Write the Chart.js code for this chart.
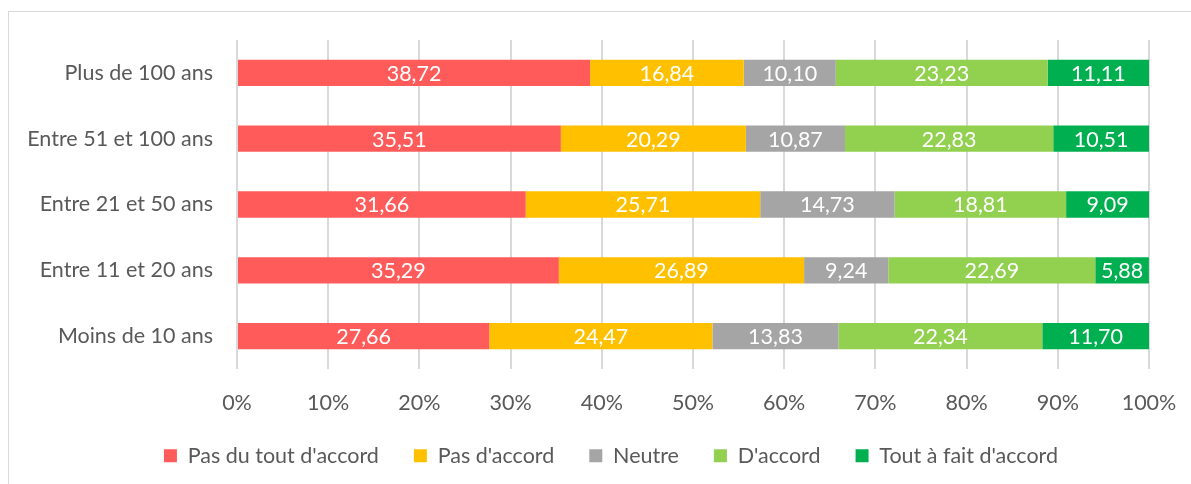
<!DOCTYPE html>
<html lang="fr">
<head>
<meta charset="utf-8">
<script src="https://cdn.jsdelivr.net/npm/chart.js@4/dist/chart.umd.min.js"></script>
<style>
  html, body { margin: 0; padding: 0; background: #fff; overflow: hidden; }
  #cadre {
    position: absolute; left: 8px; top: 11px; width: 1200px; height: 500px;
    border: 1px solid #d9d9d9; box-sizing: border-box;
  }
  #zone { position: absolute; left: 0; top: 0; width: 1191px; height: 484px; }
</style>
</head>
<body>
<div id="cadre"></div>
<div id="zone"><canvas id="graphique" width="1191" height="484"></canvas></div>
<script>
// Tranches d'âge (de haut en bas)
const categories = ['Plus de 100 ans', 'Entre 51 et 100 ans', 'Entre 21 et 50 ans', 'Entre 11 et 20 ans', 'Moins de 10 ans'];

// Pourcentages par niveau d'accord
const pasDuTout = [38.72, 35.51, 31.66, 35.29, 27.66];
const pasDAccord = [16.84, 20.29, 25.71, 26.89, 24.47];
const neutre = [10.10, 10.87, 14.73, 9.24, 13.83];
const dAccord = [23.23, 22.83, 18.81, 22.69, 22.34];
const toutAFait = [11.11, 10.51, 9.09, 5.88, 11.70];

const seriesNoms = ["Pas du tout d'accord", "Pas d'accord", 'Neutre', "D'accord", "Tout à fait d'accord"];
const seriesCouleurs = ['#FF5B5B', '#FFC000', '#A5A5A5', '#92D050', '#00B050'];

const police = "Lato, 'Open Sans', sans-serif";
const taille = 21.5;
const gris = '#595959';

// Étiquettes de valeur au centre de chaque segment
const etiquettesValeurs = {
  id: 'etiquettesValeurs',
  afterDatasetsDraw(chart) {
    const ctx = chart.ctx;
    ctx.save();
    ctx.fillStyle = '#fff';
    ctx.font = taille + 'px ' + police;
    ctx.textAlign = 'center';
    ctx.textBaseline = 'middle';
    chart.data.datasets.forEach((ds, i) => {
      chart.getDatasetMeta(i).data.forEach((bar, j) => {
        const x = (bar.x + bar.base) / 2;
        ctx.fillText(ds.data[j].toFixed(2).replace('.', ','), x, bar.y + 1);
      });
    });
    ctx.restore();
  }
};

// Recentre la légende sous l'axe et la remonte un peu
const decalageLegende = {
  id: 'decalageLegende',
  afterLayout(chart) {
    const lg = chart.legend;
    const d = 611 - (lg.left + lg.right) / 2;
    lg.left += d;
    lg.right += d;
    lg.top -= 7;
    lg.bottom -= 7;
  }
};

const datasets = [pasDuTout, pasDAccord, neutre, dAccord, toutAFait].map((valeurs, i) => ({
  label: seriesNoms[i],
  data: valeurs,
  backgroundColor: seriesCouleurs[i],
  borderWidth: 0,
  categoryPercentage: 1,
  barPercentage: 0.4
}));

new Chart(document.getElementById('graphique'), {
  type: 'bar',
  data: { labels: categories, datasets: datasets },
  plugins: [etiquettesValeurs, decalageLegende],
  options: {
    indexAxis: 'y',
    responsive: false,
    animation: false,
    layout: { padding: { top: 40, right: 42, left: 0, bottom: 7 } },
    plugins: {
      tooltip: { enabled: false },
      legend: {
        position: 'bottom',
        maxHeight: 60,
        labels: {
          boxWidth: 13,
          boxHeight: 13,
          padding: 35,
          color: gris,
          font: { family: police, size: taille }
        }
      }
    },
    scales: {
      x: {
        stacked: true,
        min: 0,
        max: 100,
        afterFit(axe) {
          axe.height = 48;
          axe.paddingLeft = 0;
          axe.paddingRight = 0;
        },
        ticks: {
          stepSize: 10,
          color: gris,
          padding: 21,
          font: { family: police, size: taille },
          callback: v => v + '%'
        },
        grid: { color: '#d9d9d9', lineWidth: 2, drawTicks: false },
        border: { display: false }
      },
      y: {
        stacked: true,
        afterFit(axe) { axe.width = 237; },
        ticks: {
          color: gris,
          padding: 24,
          font: { family: police, size: taille }
        },
        grid: { display: false, drawTicks: false },
        border: { display: false }
      }
    }
  }
});
</script>
</body>
</html>
